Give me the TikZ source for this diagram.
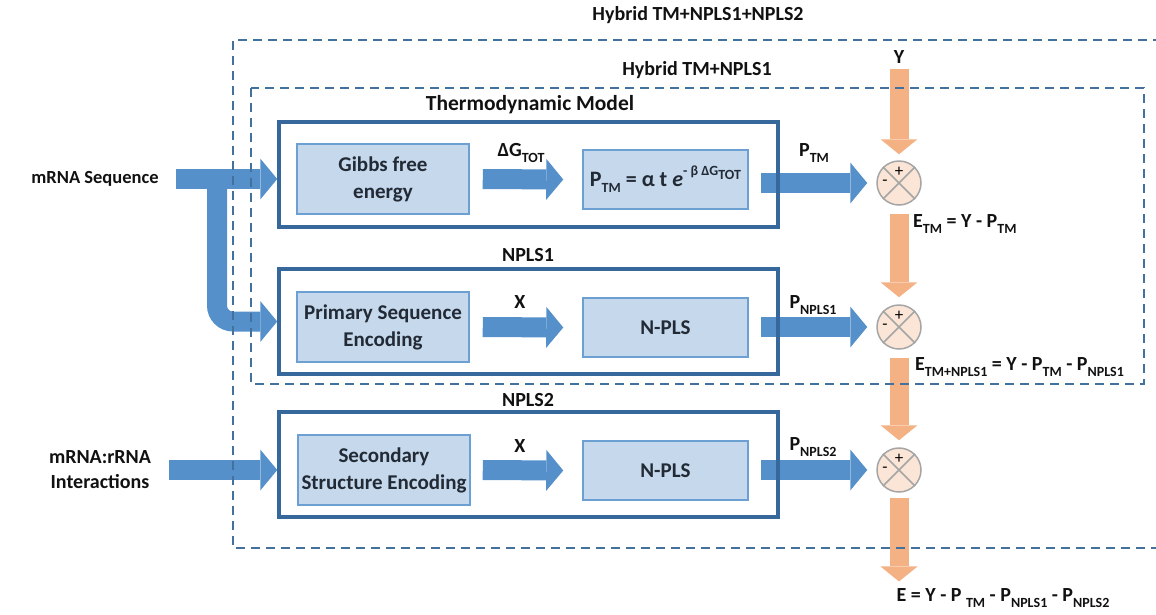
\documentclass[tikz,border=0pt]{standalone}
\usepackage{fontspec}
\setmainfont{Carlito}
\usetikzlibrary{arrows.meta,calc}
\pgfdeclarelayer{bg}
\pgfsetlayers{bg,main}

\definecolor{dashblue}{HTML}{41719C}
\definecolor{grpblue}{HTML}{36689B}
\definecolor{blkline}{HTML}{6C9FD2}
\definecolor{blkfill}{HTML}{C5D8EC}
\definecolor{blktext}{HTML}{222A35}
\definecolor{arrblue}{HTML}{5590CA}
\definecolor{arrorange}{HTML}{F4B183}
\definecolor{sumfill}{HTML}{FBE5D6}
\definecolor{sumline}{HTML}{A5A5A5}
\definecolor{txt}{HTML}{111111}

% lowered / raised small text for indices
\newcommand\sbs[1]{\raisebox{-0.28em}{\fontsize{14}{14}\selectfont #1}}
\newcommand\sps[1]{\raisebox{0.5em}{\fontsize{14}{14}\selectfont #1}}

\begin{document}
\begin{tikzpicture}[x=1pt,y=-1pt,
  group/.style={draw=grpblue, line width=3.5pt, minimum width=499pt, minimum height=105pt, inner sep=0pt},
  blk/.style={draw=blkline, fill=blkfill, line width=1.5pt, text=blktext, align=center,
    font=\bfseries\fontsize{21}{27}\selectfont, inner sep=0pt, minimum width=172pt, minimum height=70pt},
  blkb/.style={blk, minimum width=165pt, minimum height=59pt},
  sumnode/.style={circle, draw=sumline, fill=sumfill, line width=1.5pt, minimum size=44pt, inner sep=0pt},
  sumline/.style={draw=sumline, line width=1.5pt},
  barrow/.style={line width=20pt, draw=arrblue, -{Triangle[length=17pt,width=41pt,line width=0pt]}},
  oarrow/.style={line width=19pt, draw=arrorange, -{Triangle[length=15pt,width=37pt,line width=0pt]}},
  lbl/.style={font=\bfseries\fontsize{20}{25}\selectfont, text=txt, inner sep=0pt, align=center},
  title/.style={lbl, font=\bfseries\fontsize{21.5}{25}\selectfont},
  hybrid/.style={draw=dashblue, line width=1.5pt, dash pattern=on 9pt off 6pt}
]
\useasboundingbox (0,0) rectangle (1156,614);

% titles of the nested models
\node[lbl] (htwo) at (698,15) {Hybrid TM+NPLS1+NPLS2};
\node[lbl] (hone) at (697,70) {Hybrid TM+NPLS1};

% model groups
\node[group] (tm) at (528.5,174.5) {};
\node[group] (npA) at (528.5,321.5) {};
\node[group] (npB) at (528.5,464.5) {};
\node[title] (tmtitle) at (530,105) {Thermodynamic Model};
\node[lbl] (npAtitle) at (528,255) {NPLS1};
\node[lbl] (npBtitle) at (528,400) {NPLS2};

% processing blocks
\node[blk] (gibbs) at (383,179) {Gibbs free\\energy};
\node[blkb, font=\bfseries\fontsize{22}{27}\selectfont] (form) at (665.5,179.5) {P\sbs{TM} = α t \textit{e}\sps{- β ΔG\sbs{TOT}}};
\node[blk] (prim) at (383,327) {Primary Sequence\\Encoding};
\node[blkb] (nplsA) at (665.5,327.5) {N-PLS};
\node[blk] (sec) at (384,470) {Secondary\\Structure Encoding};
\node[blkb] (nplsB) at (665.5,470.5) {N-PLS};

% summing junctions
\node[sumnode] (c1) at (899,183) {};
\node[sumnode] (c2) at (899,327) {};
\node[sumnode] (c3) at (899,470) {};
\foreach \c in {c1,c2,c3}{
  \draw[sumline] (\c.north west) -- (\c.south east) (\c.north east) -- (\c.south west);
  \node[font=\fontsize{17}{17}\selectfont, inner sep=0pt] at ($(\c.center)+(0,-11)$) {+};
  \node[font=\fontsize{17}{17}\selectfont, inner sep=0pt] at ($(\c.center)+(-14,0)$) {-};
}

% inputs
\node[lbl, font=\bfseries\fontsize{18.5}{25}\selectfont] (seq) at (95,179) {mRNA Sequence};
\node[lbl] (inter) at (100,470) {mRNA:rRNA\\Interactions};

% signal labels
\node[lbl] (dg) at (521,153) {ΔG\sbs{TOT}};
\node[lbl] (xa) at (520,302) {X};
\node[lbl] (xb) at (520,446) {X};
\node[lbl] (ptm) at (814,153) {P\sbs{TM}};
\node[lbl] (pA) at (813,305) {P\sbs{NPLS1}};
\node[lbl] (pB) at (813,447) {P\sbs{NPLS2}};
\node[lbl] (Y) at (899,57) {Y};
\node[lbl, anchor=west] (etm) at (913,224) {E\sbs{TM} = Y - P\sbs{TM}};
\node[lbl, anchor=west] (etmA) at (915,367) {E\sbs{TM+NPLS1} = Y - P\sbs{TM} - P\sbs{NPLS1}};
\node[lbl] (E) at (1003,598) {E = Y - P \sbs{TM} - P\sbs{NPLS1} - P\sbs{NPLS2}};

% dashed model boundaries
\draw[hybrid] (1162,40) -- (233,40) -- (233,548) -- (1162,548);
\draw[hybrid] (251,88) rectangle (1144,384);

\begin{pgfonlayer}{bg}
  \coordinate (split) at (217,179);
  \draw[barrow] ($(seq.east)+(17,0)$) -- (tm.west |- gibbs);
  \draw[barrow, rounded corners=16pt] (split) -- (split |- npA.west) -- (npA.west);
  \draw[barrow] ($(inter.east)+(18,0)$) -- (npB.west |- sec);
  \draw[barrow] ($(gibbs.east)+(13,0)$) -- ($(form.west)+(-19,0)$);
  \draw[barrow] ($(prim.east)+(13,0)$) -- ($(nplsA.west)+(-19,0)$);
  \draw[barrow] ($(sec.east)+(12,0)$) -- ($(nplsB.west)+(-19,0)$);
  \draw[barrow] ($(c1.west -| form.east)+(12,0)$) -- ($(c1.west)+(-9,0)$);
  \draw[barrow] ($(c2.west -| nplsA.east)+(12,0)$) -- ($(c2.west)+(-9,0)$);
  \draw[barrow] ($(c3.west -| nplsB.east)+(12,0)$) -- ($(c3.west)+(-9,0)$);
  \draw[oarrow] ($(Y.south)+(0,5)$) -- ($(c1.north)+(0,-6)$);
  \draw[oarrow] ($(c1.south)+(0,8)$) -- ($(c2.north)+(0,-7)$);
  \draw[oarrow] ($(c2.south)+(0,8)$) -- ($(c3.north)+(0,-7)$);
  \draw[oarrow] ($(c3.south)+(0,5)$) -- ($(c3.south |- E.north)+(0,-7)$);
\end{pgfonlayer}
\end{tikzpicture}
\end{document}
